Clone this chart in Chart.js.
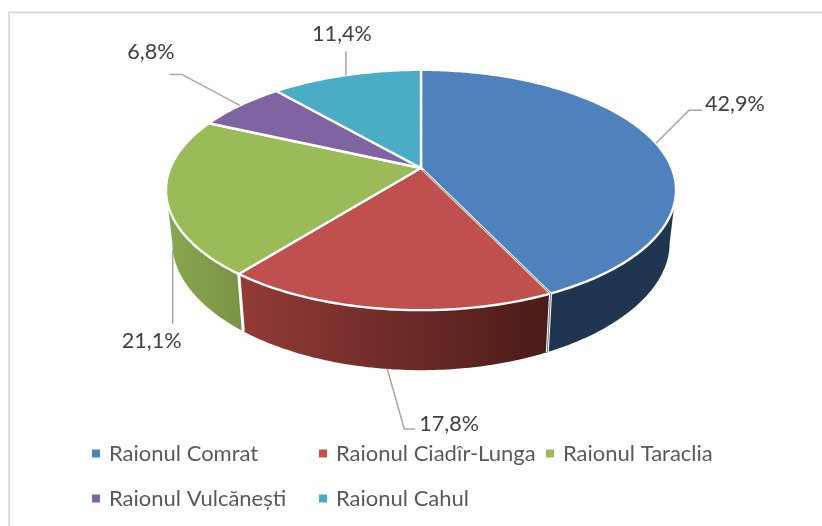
<!DOCTYPE html>
<html>
<head>
<meta charset="utf-8">
<title>Raioane</title>
<script src="https://cdn.jsdelivr.net/npm/chart.js@4"></script>
<style>
  html, body { margin: 0; background: #fff; }
  canvas { display: block; }
</style>
</head>
<body>
<canvas id="myChart" width="822" height="526"></canvas>
<script>
const categories = ["Raionul Comrat", "Raionul Ciadîr-Lunga", "Raionul Taraclia", "Raionul Vulcănești", "Raionul Cahul"];
const shares = [42.9, 17.8, 21.1, 6.8, 11.4];

const topColors = ["#4f81bd", "#c0504d", "#9bbb59", "#8064a2", "#4bacc6"];
const wallColors = [["#1f3550", "#1f3550"], ["#933b37", "#4a1c18"], ["#8aa550", "#7a9445"], ["#4d3c62", "#4d3c62"], ["#2d6777", "#2d6777"]];
const wallRange = [[550, 680], [240, 548], [170, 240], [170, 240], [240, 420]];

// leader bends and label spots, relative to where each leader leaves the pie
const leaders = [
  { wall: false, bend: [33, -33], end: [46, -33], text: [49, -39], align: "left" },
  { wall: true, bend: [17, 60], end: [28, 60], text: [32, 55], align: "left" },
  { wall: true, bend: [0, 74], end: [0, 74], text: [-21, 91], align: "center" },
  { wall: false, bend: [-58, -31], end: [-70, -31], text: [-89, -53], align: "center" },
  { wall: false, bend: [0, -24], end: [0, -24], text: [-4, -41], align: "center" },
];

// perspective of the disc: the centre sits above the middle of the ellipse
const cx = 421, cy = 168, radius = 250.7, persp = -0.183, tilt = 85.4;
const wallFrom = 0.184, wallTo = Math.PI - 0.184;

function rim(a) {
  const X = Math.cos(a), Y = Math.sin(a), w = 1 + persp * Y;
  return { x: cx + radius * X / w, y: (tilt * Y + cy) / w, Y };
}
function base(a) {
  const p = rim(a);
  return { x: cx + (p.x - cx) * 0.975, y: p.y + 53 + 7 * p.Y * p.Y };
}

function angleSteps(from, to) {
  const n = Math.max(2, Math.ceil((to - from) / 0.015));
  const out = [];
  for (let i = 0; i <= n; i++) out.push(from + (to - from) * i / n);
  return out;
}

const pie3d = {
  id: "pie3d",
  beforeDraw(chart) {
    const ctx = chart.ctx;
    ctx.save();
    ctx.strokeStyle = "#dcdcdc";
    ctx.lineWidth = 2;
    ctx.beginPath();
    ctx.moveTo(9, 526);
    ctx.lineTo(9, 12.5);
    ctx.lineTo(822, 12.5);
    ctx.stroke();
    ctx.restore();
  },
  beforeDatasetDraw(chart, args) {
    const ctx = chart.ctx;
    const arcs = args.meta.data;
    ctx.save();
    ctx.lineJoin = "round";

    // walls, only the part that faces the viewer
    arcs.forEach((arc, i) => {
      const from = Math.max(arc.startAngle, wallFrom), to = Math.min(arc.endAngle, wallTo);
      if (to <= from) return;
      const g = ctx.createLinearGradient(wallRange[i][0], 0, wallRange[i][1], 0);
      g.addColorStop(0, wallColors[i][0]);
      g.addColorStop(1, wallColors[i][1]);
      const steps = angleSteps(from, to);
      ctx.beginPath();
      steps.forEach((t) => {
        const p = rim(t);
        ctx.lineTo(p.x, p.y);
      });
      steps.slice().reverse().forEach((t) => {
        const p = base(t);
        ctx.lineTo(p.x, p.y);
      });
      ctx.closePath();
      ctx.fillStyle = g;
      ctx.fill();
    });
    // white seams between the walls
    arcs.forEach((arc) => {
      if (arc.startAngle < wallFrom || arc.startAngle > wallTo) return;
      const a = rim(arc.startAngle), d = base(arc.startAngle);
      ctx.strokeStyle = "#fff";
      ctx.lineWidth = 3;
      ctx.beginPath();
      ctx.moveTo(a.x, a.y);
      ctx.lineTo(d.x, d.y);
      ctx.stroke();
    });

    // top faces
    arcs.forEach((arc, i) => {
      ctx.beginPath();
      ctx.moveTo(cx, cy);
      angleSteps(arc.startAngle, arc.endAngle).forEach((t) => {
        const p = rim(t);
        ctx.lineTo(p.x, p.y);
      });
      ctx.closePath();
      ctx.fillStyle = topColors[i];
      ctx.fill();
      ctx.strokeStyle = "#fff";
      ctx.lineWidth = 2.4;
      ctx.stroke();
    });

    // thin dark slit where the first slice is pulled away from the second
    const slit = rim(arcs[0].endAngle), slitBase = base(arcs[0].endAngle);
    ctx.strokeStyle = "#666";
    ctx.lineWidth = 0.9;
    ctx.beginPath();
    ctx.moveTo(cx + 2, cy + 2);
    ctx.lineTo(slit.x, slit.y);
    ctx.lineTo(slitBase.x, slitBase.y);
    ctx.stroke();
    ctx.restore();
    return false;
  },
  afterDatasetsDraw(chart) {
    const ctx = chart.ctx;
    ctx.save();
    ctx.textBaseline = "middle";
    ctx.font = "21.6px Lato";
    chart.getDatasetMeta(0).data.forEach((arc, i) => {
      const mid = (arc.startAngle + arc.endAngle) / 2;
      const l = leaders[i];
      const from = l.wall ? base(mid) : rim(mid);
      ctx.strokeStyle = "#a6a6a6";
      ctx.lineWidth = 1.5;
      ctx.beginPath();
      ctx.moveTo(from.x, from.y);
      ctx.lineTo(from.x + l.bend[0], from.y + l.bend[1]);
      ctx.lineTo(from.x + l.end[0], from.y + l.end[1]);
      ctx.stroke();
      ctx.fillStyle = "#404040";
      ctx.textAlign = l.align;
      ctx.fillText(shares[i].toFixed(1).replace(".", ",") + "%", from.x + l.text[0], from.y + l.text[1]);
    });
    ctx.restore();
  },
  afterDraw(chart) {
    const ctx = chart.ctx;
    const slots = [[92, 454], [319, 454], [546, 454], [92, 499], [319, 499]];
    ctx.save();
    ctx.font = "22px Lato";
    ctx.textBaseline = "middle";
    ctx.textAlign = "left";
    categories.forEach((name, i) => {
      const [x, y] = slots[i];
      ctx.fillStyle = topColors[i];
      ctx.fillRect(x, y - 4.5, 8, 8);
      ctx.fillStyle = "#595959";
      ctx.fillText(name, x + 17, y);
    });
    ctx.restore();
  },
};

const ctx = document.getElementById("myChart").getContext("2d");
new Chart(ctx, {
  type: "pie",
  data: {
    labels: categories,
    datasets: [
      {
        data: shares,
        backgroundColor: topColors,
      },
    ],
  },
  options: {
    responsive: false,
    animation: false,
    plugins: {
      legend: { display: false },
      tooltip: { enabled: false },
    },
  },
  plugins: [pie3d],
});
</script>
</body>
</html>
